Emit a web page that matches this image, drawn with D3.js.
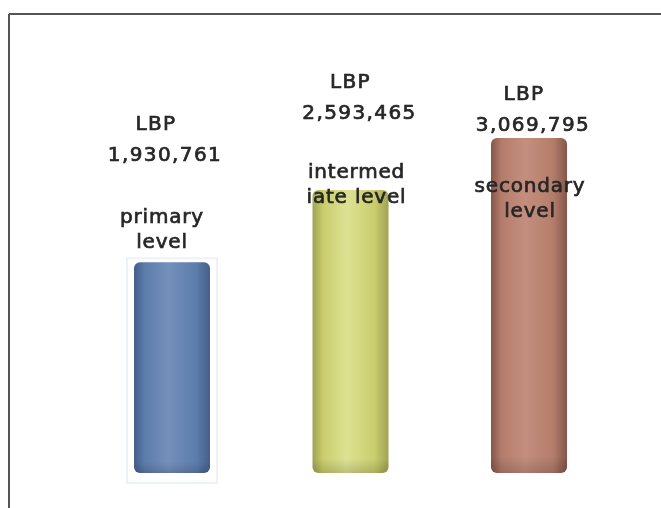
<!DOCTYPE html>
<html>
<head>
<meta charset="utf-8">
<script src="https://cdn.jsdelivr.net/npm/d3@7"></script>
<style>
html,body{margin:0;padding:0;background:#fff;}
svg{display:block;}
</style>
</head>
<body>
<svg id="chart" width="661" height="508"></svg>
<script>
// ---- data ----
const categories = ["primary", "intermediate", "secondary"];
const values = [1930761, 2593465, 3069795];
const currency = "LBP";
const categoryLines = [["primary", "level"], ["intermed", "iate level"], ["secondary", "level"]];
const baseColors = ["#5c7cab", "#c9cd6c", "#b47d6b"];
const edgeColors = ["#445f8c", "#9ea452", "#85564a"];
const lightColors = ["#7490bb", "#dde293", "#c48e7e"];

// ---- layout (not data) ----
const W = 661, H = 508;
const valueLabelY = [130, 88, 100];
const catLabelY = [223, 178, 192];
const labelDx = [-10, 6, 1];
const barW = 76;

const svg = d3.select("#chart");

const x = d3.scalePoint().domain(categories).range([172, 529]);
const y = d3.scaleLinear().domain([0, d3.max(values)]).range([473, 138]);

const defs = svg.append("defs");
categories.forEach((c, i) => {
  const g = defs.append("linearGradient").attr("id", "grad" + i)
    .attr("x1", "0%").attr("x2", "100%").attr("y1", "0%").attr("y2", "0%");
  g.append("stop").attr("offset", "0%").attr("stop-color", edgeColors[i]);
  g.append("stop").attr("offset", "14%").attr("stop-color", baseColors[i]);
  g.append("stop").attr("offset", "45%").attr("stop-color", lightColors[i]);
  g.append("stop").attr("offset", "82%").attr("stop-color", baseColors[i]);
  g.append("stop").attr("offset", "100%").attr("stop-color", edgeColors[i]);
  const v = defs.append("linearGradient").attr("id", "vgrad" + i)
    .attr("x1", "0%").attr("x2", "0%").attr("y1", "0%").attr("y2", "100%");
  v.append("stop").attr("offset", "0%").attr("stop-color", "#000").attr("stop-opacity", 0.0);
  v.append("stop").attr("offset", "95%").attr("stop-color", "#000").attr("stop-opacity", 0.0);
  v.append("stop").attr("offset", "100%").attr("stop-color", "#000").attr("stop-opacity", 0.15);
});
defs.append("filter").attr("id", "blur").append("feGaussianBlur").attr("stdDeviation", 0.7);
defs.append("filter").attr("id", "tblur").append("feGaussianBlur").attr("stdDeviation", 0.35);

// frame
svg.append("line").attr("x1", 9).attr("x2", W).attr("y1", 14).attr("y2", 14)
  .attr("stroke", "#555").attr("stroke-width", 2);
svg.append("line").attr("x1", 9).attr("x2", 9).attr("y1", 14).attr("y2", H)
  .attr("stroke", "#555").attr("stroke-width", 2);

// faint light outline near the blue bar (from reference)
svg.append("rect")
  .attr("x", x(categories[0]) - barW / 2 - 7).attr("y", y(values[0]) - 4)
  .attr("width", barW + 14).attr("height", y(0) - y(values[0]) + 14)
  .attr("fill", "none").attr("stroke", "#edf2f9").attr("stroke-width", 2);

// bars
const bars = svg.append("g").selectAll("g").data(values).join("g");
bars.append("rect")
  .attr("x", (d, i) => x(categories[i]) - barW / 2)
  .attr("y", d => y(d))
  .attr("width", barW)
  .attr("height", d => y(0) - y(d))
  .attr("rx", 6)
  .attr("fill", (d, i) => `url(#grad${i})`)
  .attr("filter", "url(#blur)");
bars.append("rect")
  .attr("x", (d, i) => x(categories[i]) - barW / 2)
  .attr("y", d => y(d))
  .attr("width", barW)
  .attr("height", d => y(0) - y(d))
  .attr("rx", 6)
  .attr("fill", (d, i) => `url(#vgrad${i})`);

// labels
const fmt = d3.format(",");
const font = "'DejaVu Sans', Verdana, sans-serif";
const labels = svg.append("g").selectAll("g").data(values).join("g")
  .attr("font-family", font).attr("font-size", 20)
  .attr("fill", "#262626").attr("stroke", "#262626").attr("stroke-width", 0.7)
  .attr("text-anchor", "middle")
  .attr("letter-spacing", 1.4)
  .attr("filter", "url(#tblur)");

labels.append("text")
  .attr("x", (d, i) => x(categories[i]) + labelDx[i] - 6)
  .attr("y", (d, i) => valueLabelY[i])
  .text(currency);
labels.append("text")
  .attr("x", (d, i) => x(categories[i]) + labelDx[i] + 3)
  .attr("y", (d, i) => valueLabelY[i] + 31)
  .text(d => fmt(d));
labels.each(function (d, i) {
  const g = d3.select(this);
  categoryLines[i].forEach((line, j) => {
    g.append("text")
      .attr("x", x(categories[i]) + labelDx[i])
      .attr("y", catLabelY[i] + j * 25)
      .attr("letter-spacing", 0.8)
      .text(line);
  });
});
</script>
</body>
</html>
